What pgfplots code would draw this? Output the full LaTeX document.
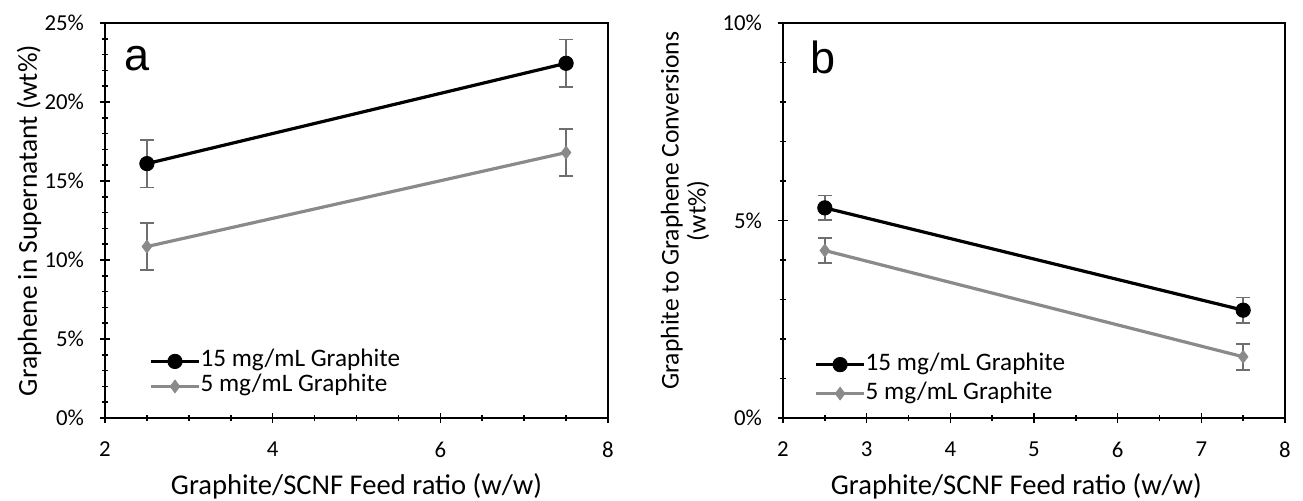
\documentclass[border=0pt]{standalone}
\usepackage{pgfplots}
\pgfplotsset{compat=1.18}
\usepackage{fontspec}
\setmainfont{Carlito}
\newfontfamily\arialfont{Liberation Sans}
\definecolor{sergray}{HTML}{8A8A8A}
\definecolor{errgray}{HTML}{6E6E6E}
\pgfplotsset{
  myax/.style={
    scale only axis,
    height=197.5pt,
    xmin=2, xmax=8, ymin=0,
    axis line style={line width=1.1pt},
    tick pos=left,
    tick align=center,
    major tick length=5pt,
    minor tick length=3pt,
    every tick/.style={black, line width=0.8pt},
    tick label style={font=\fontsize{11.4}{13}\selectfont},
    /pgf/number format/assume math mode=true,
    xticklabel style={yshift=-6pt},
    yticklabel style={xshift=-4.5pt},
    every axis x label/.style={at={([yshift=-38pt]axis description cs:0.5,0)}, anchor=base, font=\fontsize{14.3}{17}\selectfont},
    legend cell align=left,
    legend style={draw=none, fill=none, font=\fontsize{12.6}{14}\selectfont,
      nodes={inner sep=0pt, text height=9pt, text depth=3.5pt, font=\fontsize{12.6}{14}\selectfont},
      /tikz/every even column/.append style={column sep=4pt}},
    legend image code/.code={\draw[mark repeat=2, mark phase=2] plot coordinates {(0pt,0pt) (12pt,0pt) (24pt,0pt)};},
    error bars/error bar style={errgray, line width=0.8pt},
    error bars/error mark options={rotate=90, errgray, mark size=3.5pt, line width=0.8pt},
  },
  blk/.style={black, line width=1.6pt, mark=*, mark size=3.6pt, mark options={solid, fill=black, line width=0.4pt}},
  gry/.style={sergray, line width=1.6pt, mark=diamond*, mark size=3.2pt, mark options={solid, fill=sergray, draw=sergray, line width=0.4pt}},
}
\begin{document}
\begin{tikzpicture}
\path[use as bounding box] (0,0) rectangle (651.5pt,250pt);
% Panel a
\begin{axis}[myax,
  at={(52.5pt,41pt)}, anchor=south west,
  width=251.5pt,
  ymax=25,
  xtick={2,4,6,8},
  minor xtick={2.5,3,3.5,4.5,5,5.5,6.5,7,7.5},
  ytick={0,5,10,15,20,25},
  yticklabels={0\%,5\%,10\%,15\%,20\%,25\%},
  minor ytick={1,2,3,4,6,7,8,9,11,12,13,14,16,17,18,19,21,22,23,24},
  xlabel={Graphite/SCNF Feed ratio (w/w)},
  ylabel={Graphene in Supernatant (wt\%)},
  every axis y label/.style={at={([xshift=-38pt]axis description cs:0,0.5)}, rotate=90, anchor=center, font=\fontsize{13.7}{17}\selectfont},
  legend style={at={(0.0755,0.186)}, anchor=north west},
]
\addplot+[blk, error bars/.cd, y dir=both, y explicit] coordinates {
  (2.5,16.10) +- (0,1.50)
  (7.5,22.45) +- (0,1.50)
};
\addlegendentry{15 mg/mL Graphite}
\addplot+[gry, error bars/.cd, y dir=both, y explicit] coordinates {
  (2.5,10.85) +- (0,1.50)
  (7.5,16.80) +- (0,1.50)
};
\addlegendentry{5 mg/mL Graphite}
\node[anchor=base west, inner sep=0pt, font=\arialfont\fontsize{22.5}{27}\selectfont] at (axis description cs:0.037,0.881) {a};
\end{axis}
% Panel b
\begin{axis}[myax,
  at={(391.5pt,41pt)}, anchor=south west,
  width=251pt,
  ymax=10,
  xtick={2,3,4,5,6,7,8},
  minor xtick={2.5,3.5,4.5,5.5,6.5,7.5},
  ytick={0,5,10},
  yticklabels={0\%,5\%,10\%},
  minor ytick={1,2,3,4,6,7,8,9},
  xlabel={Graphite/SCNF Feed ratio (w/w)},
  every axis x label/.style={at={([yshift=-38pt]axis description cs:0.465,0)}, anchor=base, font=\fontsize{14.3}{17}\selectfont},
  ylabel={Graphite to Graphene Conversions\\(wt\%)},
  every axis y label/.style={at={([xshift=-49pt]axis description cs:0,0.525)}, rotate=90, anchor=center, align=center,
    font=\fontsize{12.8}{13.5}\selectfont},
  legend style={at={(0.05,0.183)}, anchor=north west,
    nodes={inner sep=0pt, text height=10pt, text depth=4.5pt}},
]
\addplot+[blk, error bars/.cd, y dir=both, y explicit] coordinates {
  (2.5,5.32) +- (0,0.31)
  (7.5,2.73) +- (0,0.32)
};
\addlegendentry{15 mg/mL Graphite}
\addplot+[gry, error bars/.cd, y dir=both, y explicit] coordinates {
  (2.5,4.24) +- (0,0.31)
  (7.5,1.55) +- (0,0.33)
};
\addlegendentry{5 mg/mL Graphite}
\node[anchor=base west, inner sep=0pt, font=\arialfont\fontsize{22.5}{27}\selectfont] at (axis description cs:0.054,0.871) {b};
\end{axis}
\end{tikzpicture}
\end{document}
